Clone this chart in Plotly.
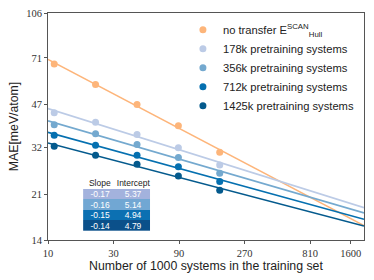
import numpy as np
import plotly.graph_objects as go

# ---- data ----
train_sizes = [11.1, 22.2, 44.5, 89, 178]          # thousands of systems
series_names = [
    "no transfer E<sup>SCAN</sup><sub>Hull</sub>",
    "178k pretraining systems",
    "356k pretraining systems",
    "712k pretraining systems",
    "1425k pretraining systems",
]
mae_no_transfer = [67.2, 56.0, 46.9, 38.8, 30.6]
mae_178k = [43.5, 40.0, 35.9, 31.9, 27.3]
mae_356k = [39.1, 36.1, 32.8, 29.2, 25.4]
mae_712k = [35.6, 32.6, 29.8, 26.9, 23.6]
mae_1425k = [32.3, 29.8, 27.5, 24.8, 21.8]
fit_x_range = [10, 2000]

table_header = ["Slope", "Intercept"]
table_slopes = ["-0.17", "-0.16", "-0.15", "-0.14"]
table_intercepts = ["5.37", "5.14", "4.94", "4.79"]

x_tick_vals = [10, 30, 90, 270, 810, 1600]
y_tick_vals = [14, 21, 32, 47, 71, 106]

# ---- styles ----
colors = ["#fdb57a", "#bccbe6", "#74a9cf", "#0570b0", "#045a8d"]
table_colors = ["#a3b2dd", "#71a7d3", "#0c70b2", "#0b508a"]
SANS = "Liberation Sans"
SERIF = "Liberation Serif"

all_series = [mae_no_transfer, mae_178k, mae_356k, mae_712k, mae_1425k]

fig = go.Figure()
lx = np.log10(np.array(train_sizes))
fx = np.array(fit_x_range, dtype=float)
for name, ys, c in zip(series_names, all_series, colors):
    slope, icpt = np.polyfit(lx, np.log10(np.array(ys)), 1)
    fy = 10 ** (icpt + slope * np.log10(fx))
    fig.add_trace(go.Scatter(x=fx, y=fy, mode="lines", line=dict(color=c, width=1.6),
                             showlegend=False, hoverinfo="skip"))
for name, ys, c in zip(series_names, all_series, colors):
    fig.add_trace(go.Scatter(x=train_sizes, y=ys, mode="markers", name=name,
                             marker=dict(color=c, size=7)))

# slope / intercept table as a small heatmap on its own axes
n_rows = len(table_slopes)
row_idx = list(range(n_rows))
z = [[i, i] for i in row_idx]
text = [[s, b] for s, b in zip(table_slopes, table_intercepts)]
cscale = [[i / (n_rows - 1), c] for i, c in enumerate(table_colors)]
fig.add_trace(go.Heatmap(
    x=table_header, y=row_idx, z=z, text=text, texttemplate="%{text}",
    textfont=dict(family=SANS, size=8.5, color="white"),
    colorscale=cscale, zmin=0, zmax=n_rows - 1, showscale=False,
    xaxis="x2", yaxis="y2", hoverinfo="skip", xgap=0, ygap=0,
))

axis_common = dict(type="log", showgrid=False, zeroline=False, showline=True,
                   linecolor="#555", linewidth=1, mirror=True, ticks="outside",
                   ticklen=3, tickcolor="#555", automargin=False,
                   tickfont=dict(family=SERIF, size=10.5, color="#333"))
fig.update_layout(
    xaxis=dict(range=[np.log10(10), np.log10(2000)], tickvals=x_tick_vals,
               ticktext=[str(v) for v in x_tick_vals],
               title=dict(text="Number of 1000 systems in the training set",
                          font=dict(family=SANS, size=12.3, color="#222"), standoff=2),
               **axis_common),
    yaxis=dict(range=[np.log10(14), np.log10(106)], tickvals=y_tick_vals,
               ticktext=[str(v) for v in y_tick_vals],
               title=dict(text="MAE[meV/atom]",
                          font=dict(family=SANS, size=12.3, color="#222"), standoff=4),
               **axis_common),
    xaxis2=dict(domain=[0.111, 0.323], anchor="y2", side="top", showline=False,
                showgrid=False, zeroline=False, ticks="", ticklen=0,
                tickfont=dict(family=SANS, size=8.5, color="#222")),
    yaxis2=dict(domain=[0.041, 0.225], anchor="x2", range=[n_rows - 0.5, -0.5],
                showticklabels=False, showline=False, showgrid=False,
                zeroline=False, ticks=""),
    width=374, height=280,
    margin=dict(l=48, r=10, t=13, b=40, autoexpand=False),
    paper_bgcolor="white", plot_bgcolor="white",
    legend=dict(x=0.427, y=0.99, xanchor="left", yanchor="top",
                bgcolor="rgba(0,0,0,0)", font=dict(family=SANS, size=11.2, color="#222")),
)

fig.write_html("out.html", config={"displayModeBar": False},
               post_script="document.body.style.margin='0';")
